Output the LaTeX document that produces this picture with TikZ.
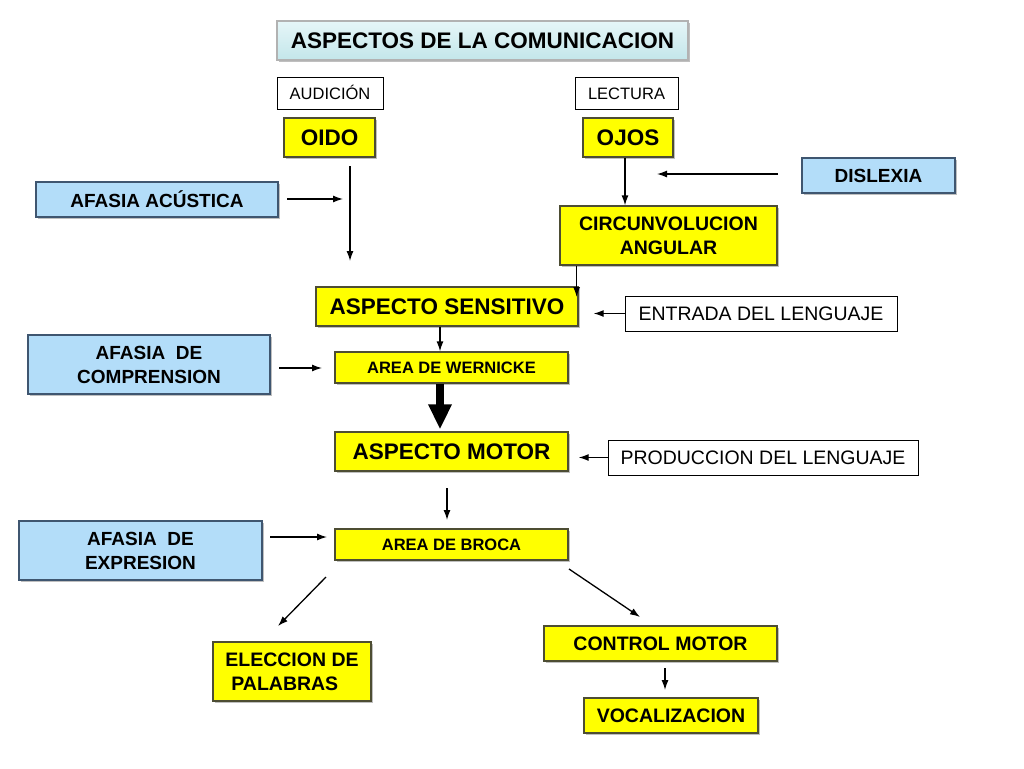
\documentclass[tikz,border=0pt]{standalone}
\usepackage{fontspec}
\setmainfont{Liberation Sans}
\usetikzlibrary{arrows.meta,shadows}

\definecolor{boxyellow}{HTML}{FFFF00}
\definecolor{boxblue}{HTML}{B3DDF9}
\definecolor{boxline}{HTML}{4D4D33}
\definecolor{blueline}{HTML}{3F5670}
\definecolor{titletop}{HTML}{E6F6F8}
\definecolor{titlebot}{HTML}{C3E6EA}

\tikzset{
	box/.style={draw=boxline,line width=1.3pt,inner sep=0pt,align=center,text=black},
	shade box/.style={drop shadow={shadow xshift=2pt,shadow yshift=-2pt,fill=black,opacity=0.25}},
	yellowbox/.style={box,fill=boxyellow,shade box,font=\bfseries\fontsize{19.5}{24}\selectfont},
	bluebox/.style={box,draw=blueline,fill=boxblue,shade box,font=\bfseries\fontsize{19}{24}\selectfont},
	textbox/.style={box,draw=black,fill=white,line width=1pt,text height=14pt,text depth=0pt,font=\fontsize{19.5}{24}\selectfont},
	arr/.style={-{Latex[length=10pt,width=7pt]},line width=1.3pt},
}

\begin{document}
\begin{tikzpicture}[x=1pt,y=-1pt]
	\useasboundingbox (0,0) rectangle (1024,768);
	% title and the two ways in
	\node[box,draw=gray!60,top color=titletop,bottom color=titlebot,shade box,minimum width=411pt,minimum height=39pt,font=\bfseries\fontsize{22.5}{27}\selectfont] (title) at (482.5,40.5) {ASPECTOS DE LA COMUNICACION};
	\node[textbox,minimum width=106pt,minimum height=32pt,text height=12pt,font=\fontsize{16.5}{20}\selectfont] (audicion) at (330,93) {AUDICIÓN};
	\node[textbox,minimum width=103pt,minimum height=32pt,text height=12pt,font=\fontsize{16.5}{20}\selectfont] (lectura) at (626.5,93) {LECTURA};
	\node[yellowbox,minimum width=91pt,minimum height=39pt,font=\bfseries\fontsize{22.5}{27}\selectfont] (oido) at (329.5,137.5) {OIDO};
	\node[yellowbox,minimum width=90pt,minimum height=39pt,font=\bfseries\fontsize{22.5}{27}\selectfont] (ojos) at (628,137.5) {OJOS};
	\node[bluebox,minimum width=242pt,minimum height=35pt] (acustica) at (157,199.5) {AFASIA ACÚSTICA};
	\node[bluebox,minimum width=153pt,minimum height=35pt] (dislexia) at (878.5,175.5) {DISLEXIA};
	\node[yellowbox,minimum width=217pt,minimum height=59pt] (circun) at (668.5,235.5) {CIRCUNVOLUCION\\ANGULAR};
	% sensitive side
	\node[yellowbox,minimum width=262pt,minimum height=39pt,font=\bfseries\fontsize{22.5}{27}\selectfont] (sensitivo) at (447,306.5) {ASPECTO SENSITIVO};
	\node[textbox,minimum width=272pt,minimum height=35pt] (entrada) at (761,313.5) {ENTRADA DEL LENGUAJE};
	\node[bluebox,minimum width=242pt,minimum height=59pt] (comprension) at (149,364.5) {AFASIA~~DE\\COMPRENSION};
	\node[yellowbox,minimum width=233pt,minimum height=31pt,font=\bfseries\fontsize{16.5}{20}\selectfont] (wernicke) at (451.5,367.5) {AREA DE WERNICKE};
	% motor side
	\node[yellowbox,minimum width=233pt,minimum height=39pt,font=\bfseries\fontsize{22.5}{27}\selectfont] (motor) at (451.5,451.5) {ASPECTO MOTOR};
	\node[textbox,minimum width=310pt,minimum height=35pt] (produccion) at (763,457.5) {PRODUCCION DEL LENGUAJE};
	\node[bluebox,minimum width=243pt,minimum height=59pt] (expresion) at (140.5,550.5) {AFASIA~~DE\\EXPRESION};
	\node[yellowbox,minimum width=233pt,minimum height=31pt,font=\bfseries\fontsize{16.5}{20}\selectfont] (broca) at (451.5,544.5) {AREA DE BROCA};
	\node[yellowbox,minimum width=158pt,minimum height=59pt,align=left] (eleccion) at (292,671.5) {ELECCION DE\\\hspace*{6pt}PALABRAS};
	\node[yellowbox,minimum width=233pt,minimum height=35pt] (control) at (660.5,643.5) {CONTROL MOTOR};
	\node[yellowbox,minimum width=174pt,minimum height=35pt] (vocal) at (671,715.5) {VOCALIZACION};
	% loose ends of the arrows
	\coordinate (acu out) at (287,199);
	\coordinate (acu in) at (343,199);
	\coordinate (oido out) at (350,166);
	\coordinate (oido in) at (350,261);
	\coordinate (dis out) at (778,174);
	\coordinate (dis in) at (657,174);
	\coordinate (comp out) at (279,368);
	\coordinate (comp in) at (322,368);
	\coordinate (mot out) at (447,488);
	\coordinate (mot in) at (447,520);
	\coordinate (exp out) at (270,537);
	\coordinate (exp in) at (327,537);
	\coordinate (broca left) at (326,577);
	\coordinate (broca right) at (569,569);
	\coordinate (elec in) at (278,626);
	\coordinate (ctrl in) at (640,617);
	\coordinate (ctrl out) at (665,668);
	\coordinate (voc in) at (665,690);
	% arrows
	\draw[arr] (acu out) -- (acu in);
	\draw[arr] (oido out) -- (oido in);
	\draw[arr] ([xshift=-3pt]ojos.south) -- ([xshift=-3pt]ojos.south |- circun.north);
	\draw[arr] (dis out) -- (dis in);
	\draw[arr] ([xshift=-2pt]circun.south -| sensitivo.east) -- ([xshift=-2pt]sensitivo.east |- 0,297);
	\draw[arr] (entrada.west) -- ([xshift=15pt]sensitivo.east |- entrada.west);
	\draw[arr] (comp out) -- (comp in);
	\draw[arr] ([xshift=-7pt]sensitivo.south) -- ([xshift=-7pt]sensitivo.south |- wernicke.north);
	\draw[line width=8pt,-{Triangle[length=25pt,width=22pt]}] ([xshift=-11.5pt]wernicke.south) -- ([xshift=-11.5pt,yshift=2pt]wernicke.south |- motor.north);
	\draw[arr] (produccion.west) -- ([xshift=10pt]motor.east |- produccion.west);
	\draw[arr] (mot out) -- (mot in);
	\draw[arr] (exp out) -- (exp in);
	\draw[arr] (broca left) -- (elec in);
	\draw[arr] (broca right) -- (ctrl in);
	\draw[arr] (ctrl out) -- (voc in);
\end{tikzpicture}
\end{document}
